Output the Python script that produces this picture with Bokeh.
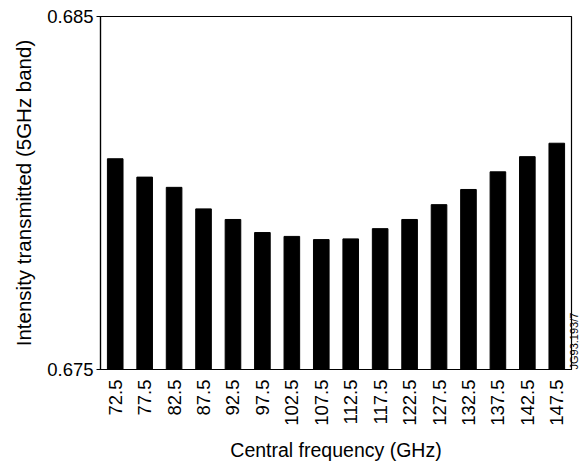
import math
from bokeh.plotting import figure
from bokeh.models import FixedTicker, LinearAxis
from bokeh.embed import file_html
from bokeh.resources import INLINE

freqs = ["72.5", "77.5", "82.5", "87.5", "92.5", "97.5", "102.5", "107.5",
         "112.5", "117.5", "122.5", "127.5", "132.5", "137.5", "142.5", "147.5"]
intensity = [0.68097, 0.68045, 0.68016, 0.67955, 0.67925, 0.67888, 0.67877, 0.67868,
             0.67870, 0.67899, 0.67925, 0.67967, 0.68010, 0.68060, 0.68103, 0.68141]
y_ticks = [0.675, 0.685]

FONT = "Liberation Sans"

p = figure(x_range=freqs, y_range=(0.675, 0.685), width=588, height=464,
           output_backend="svg", toolbar_location=None,
           min_border_left=100, min_border_right=15, min_border_top=16, min_border_bottom=95)

p.vbar(x=freqs, top=intensity, bottom=0.675, width=0.53, color="black")

p.grid.visible = False
p.outline_line_color = "black"
p.outline_line_width = 1.2

p.yaxis.ticker = FixedTicker(ticks=y_ticks)
p.yaxis.major_label_overrides = {0.675: "0.675", 0.685: "0.685"}
p.yaxis.minor_tick_line_color = None
p.yaxis.major_tick_out = 4
p.yaxis.major_tick_in = 0
p.yaxis.axis_label = "Intensity transmitted (5GHz band)"

p.xaxis.major_tick_line_color = None
p.xaxis.major_label_orientation = math.pi / 2
p.xaxis.axis_label = "Central frequency (GHz)"

for ax in (p.xaxis, p.yaxis):
    ax.axis_line_color = "black"
    ax.axis_line_width = 1.2
    ax.major_label_text_font = FONT
    ax.major_label_text_font_size = "18.5px"
    ax.major_label_text_color = "black"
    ax.axis_label_text_font = FONT
    ax.axis_label_text_font_style = "normal"
    ax.axis_label_text_color = "black"

p.xaxis.axis_label_text_font_size = "19.5px"
p.yaxis.axis_label_text_font_size = "20.5px"
p.yaxis.major_label_standoff = 3
p.yaxis.axis_label_standoff = 9
p.xaxis.major_label_standoff = 4
p.xaxis.axis_label_standoff = 10

tag_axis = LinearAxis(ticker=FixedTicker(ticks=[]), axis_label="JG93.193/7",
                      axis_line_color=None, major_tick_line_color=None,
                      minor_tick_line_color=None, major_tick_out=0, major_tick_in=0,
                      minor_tick_out=0, minor_tick_in=0,
                      major_label_standoff=0, axis_label_standoff=2,
                      axis_label_text_font=FONT, axis_label_text_font_size="11px",
                      axis_label_text_font_style="normal", axis_label_text_color="black",
                      axis_label_orientation=math.pi / 2, axis_label_align="start")
p.add_layout(tag_axis, "right")

open("out.html", "w").write(file_html(p, INLINE))
